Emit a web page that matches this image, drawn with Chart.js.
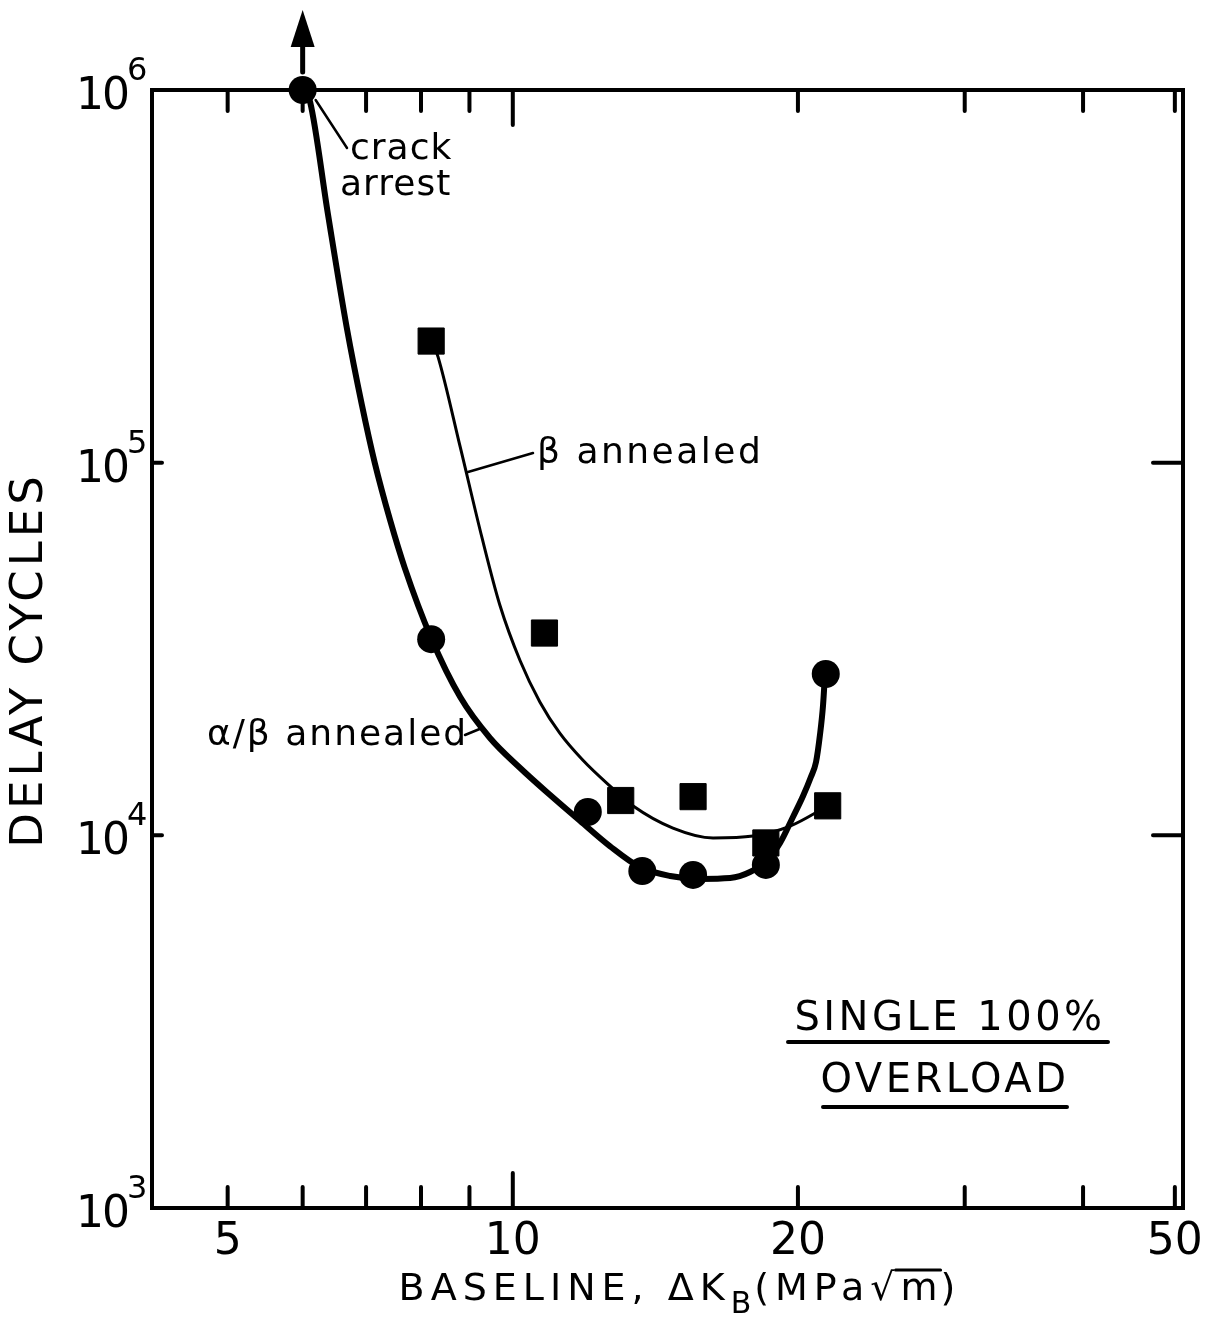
<!DOCTYPE html>
<html lang="en">
<head>
<meta charset="UTF-8">
<title>Delay cycles vs baseline ΔK</title>
<script src="https://cdn.jsdelivr.net/npm/chart.js@4"></script>
<style>
  body { margin: 0; background: #fff; }
  #chart { display: block; }
</style>
</head>
<body>
<canvas id="chart" width="1210" height="1323"></canvas>
<script>
// alpha/beta annealed (circles)
const abX = [6.0, 8.2, 12.0, 13.7, 15.5, 18.5, 21.4];
const abY = [1.0e6, 33600, 11550, 8020, 7830, 8330, 27100];

// beta annealed (squares)
const bX = [8.2, 10.8, 13.0, 15.5, 18.5, 21.5];
const bY = [212000, 34900, 12400, 12700, 9540, 12000];

// faired curves
const abCurveX = [6.02, 6.11, 6.38, 6.68, 6.93, 7.15, 7.42, 7.69, 8.20, 8.80, 9.46, 10.18, 10.95, 11.78, 12.66, 13.62, 14.66, 15.76, 16.96, 17.80, 18.51, 19.15, 19.76, 20.25, 20.64, 20.90, 21.10, 21.26, 21.36];
const abCurveY = [1.0e6, 928600, 464800, 229800, 142700, 99800, 70200, 52200, 33840, 23500, 18250, 15160, 12830, 10930, 9360, 8220, 7780, 7640, 7680, 7970, 8530, 9540, 11200, 12750, 14340, 15730, 18590, 22370, 27100];

const bCurveX = [8.22, 8.34, 8.80, 9.28, 9.69, 10.18, 10.68, 11.21, 11.86, 12.66, 13.40, 14.76, 16.27, 17.93, 19.62, 21.51];
const bCurveY = [212000, 192000, 110200, 62800, 41500, 29400, 22800, 18800, 15900, 13570, 11990, 10460, 9840, 9960, 10590, 12000];

// axis ticks
const xTicks = [5, 6, 7, 8, 9, 10, 20, 30, 40, 50];
const xMajor = [10];
const xLabels = [5, 10, 20, 50];
const yTicks = [1e3, 1e4, 1e5, 1e6];
const yExp = [3, 4, 5, 6];

const FONT = '"DejaVu Sans", sans-serif';

function toPts(xs, ys) {
  return xs.map((v, i) => ({ x: v, y: ys[i] }));
}

// frame + inward ticks, drawn under the data
const framePlugin = {
  id: 'frame',
  beforeDatasetsDraw(chart) {
    const { ctx, chartArea: a, scales: { x, y } } = chart;
    ctx.save();
    ctx.strokeStyle = '#000';
    ctx.lineWidth = 4;
    ctx.strokeRect(a.left, a.top, a.right - a.left, a.bottom - a.top);
    ctx.lineCap = 'round';
    xTicks.forEach(v => {
      const px = x.getPixelForValue(v);
      const len = xMajor.includes(v) ? 35 : 21;
      ctx.beginPath();
      ctx.moveTo(px, a.bottom);
      ctx.lineTo(px, a.bottom - len);
      ctx.moveTo(px, a.top);
      ctx.lineTo(px, a.top + len);
      ctx.stroke();
    });
    yTicks.forEach(v => {
      if (v <= y.min || v >= y.max) return;
      const py = y.getPixelForValue(v);
      ctx.beginPath();
      ctx.moveTo(a.left, py);
      ctx.lineTo(a.left + 10, py);
      ctx.moveTo(a.right, py);
      ctx.lineTo(a.right - 30, py);
      ctx.stroke();
    });
    ctx.restore();
  }
};

function drawRun(ctx, parts, cx, baseline) {
  let total = 0;
  parts.forEach(p => {
    ctx.font = p.font;
    ctx.letterSpacing = p.ls || '0px';
    p.w = ctx.measureText(p.t).width;
    total += p.w;
  });
  let xx = cx - total / 2;
  ctx.textAlign = 'left';
  ctx.textBaseline = 'alphabetic';
  parts.forEach(p => {
    ctx.font = p.font;
    ctx.letterSpacing = p.ls || '0px';
    ctx.fillText(p.t, xx, baseline + (p.dy || 0));
    p.x0 = xx;
    xx += p.w;
  });
  return parts;
}

// labels, titles and notes
const labelPlugin = {
  id: 'labels',
  afterDraw(chart) {
    const { ctx, chartArea: a, scales: { x, y } } = chart;
    ctx.save();
    ctx.fillStyle = '#000';
    ctx.strokeStyle = '#000';
    ctx.lineCap = 'round';

    // x tick labels
    ctx.font = '44px ' + FONT;
    ctx.textAlign = 'center';
    ctx.textBaseline = 'alphabetic';
    xLabels.forEach(v => {
      ctx.fillText(String(v), x.getPixelForValue(v), a.bottom + 46);
    });

    // y tick labels 10^n
    yTicks.forEach((v, i) => {
      const py = y.getPixelForValue(v);
      ctx.font = '44px ' + FONT;
      ctx.letterSpacing = '-2px';
      ctx.textAlign = 'right';
      ctx.fillText('10', 128, py + 19);
      ctx.font = '32px ' + FONT;
      ctx.letterSpacing = '0px';
      ctx.textAlign = 'left';
      ctx.fillText(String(yExp[i]), 127, py - 10);
    });

    // y title
    ctx.save();
    ctx.translate(30, 660);
    ctx.rotate(-Math.PI / 2);
    ctx.font = '45px ' + FONT;
    ctx.letterSpacing = '4px';
    ctx.textAlign = 'center';
    ctx.textBaseline = 'middle';
    ctx.fillText('DELAY CYCLES', 0, 0);
    ctx.restore();

    // x title
    const big = '38px ' + FONT;
    const parts = drawRun(ctx, [
      { t: 'BASELINE, ΔK', font: big, ls: '6px' },
      { t: 'B', font: '30px ' + FONT, dy: 13, ls: '3px' },
      { t: '(MPa√', font: big, ls: '6px' },
      { t: 'm', font: big, ls: '3px', over: true },
      { t: ')', font: big }
    ], 677, 1300);
    const m = parts.find(p => p.over);
    ctx.lineWidth = 3;
    ctx.beginPath();
    ctx.moveTo(m.x0 - 5, 1300 - 30);
    ctx.lineTo(m.x0 + m.w, 1300 - 30);
    ctx.stroke();

    // arrow above crack arrest point
    const ax = x.getPixelForValue(abX[0]);
    const ay = y.getPixelForValue(abY[0]);
    ctx.lineWidth = 5;
    ctx.beginPath();
    ctx.moveTo(ax, ay - 18);
    ctx.lineTo(ax, ay - 44);
    ctx.stroke();
    ctx.beginPath();
    ctx.moveTo(ax - 12, ay - 43);
    ctx.lineTo(ax + 12, ay - 43);
    ctx.lineTo(ax, ay - 80);
    ctx.closePath();
    ctx.fill();

    // notes
    ctx.letterSpacing = '1px';
    ctx.font = '36px ' + FONT;
    ctx.textAlign = 'left';
    ctx.fillText('crack', 350, 159);
    ctx.fillText('arrest', 340, 195);
    ctx.letterSpacing = '2.5px';
    ctx.fillText('β annealed', 537, 463);
    ctx.letterSpacing = '2px';
    ctx.fillText('α/β annealed', 207, 745);

    ctx.lineWidth = 2.5;
    ctx.beginPath();
    ctx.moveTo(ax + 13, ay + 10);
    ctx.lineTo(347, 148);
    ctx.moveTo(468, 472);
    ctx.lineTo(533, 453);
    ctx.moveTo(465, 735);
    ctx.lineTo(482, 728);
    ctx.stroke();

    ctx.font = '40px ' + FONT;
    ctx.letterSpacing = '3.5px';
    ctx.textAlign = 'center';
    ctx.fillText('SINGLE 100%', 950, 1030);
    ctx.fillText('OVERLOAD', 945, 1092);
    ctx.lineWidth = 4;
    ctx.beginPath();
    ctx.moveTo(788, 1042);
    ctx.lineTo(1108, 1042);
    ctx.moveTo(823, 1107);
    ctx.lineTo(1067, 1107);
    ctx.stroke();

    ctx.restore();
  }
};

new Chart(document.getElementById('chart'), {
  type: 'scatter',
  data: {
    datasets: [
      {
        label: 'α/β annealed',
        data: toPts(abX, abY),
        pointStyle: 'circle',
        pointRadius: 14,
        backgroundColor: '#000',
        borderColor: '#000',
        borderWidth: 0,
        clip: false,
        order: 0
      },
      {
        label: 'β annealed',
        data: toPts(bX, bY),
        pointStyle: 'rect',
        pointRadius: 18.5,
        backgroundColor: '#000',
        borderColor: '#000',
        borderWidth: 1,
        clip: false,
        order: 0
      },
      {
        label: 'α/β annealed curve',
        data: toPts(abCurveX, abCurveY),
        showLine: true,
        pointRadius: 0,
        borderColor: '#000',
        borderWidth: 6,
        borderCapStyle: 'round',
        borderJoinStyle: 'round',
        cubicInterpolationMode: 'monotone',
        clip: false,
        order: 1
      },
      {
        label: 'β annealed curve',
        data: toPts(bCurveX, bCurveY),
        showLine: true,
        pointRadius: 0,
        borderColor: '#000',
        borderWidth: 3,
        borderCapStyle: 'round',
        borderJoinStyle: 'round',
        cubicInterpolationMode: 'monotone',
        clip: false,
        order: 1
      }
    ]
  },
  options: {
    responsive: false,
    animation: false,
    devicePixelRatio: 1,
    events: [],
    layout: { padding: { left: 152, right: 27, top: 90, bottom: 115 } },
    plugins: { legend: { display: false }, tooltip: { enabled: false } },
    scales: {
      x: { type: 'logarithmic', min: 4.16, max: 51, display: false },
      y: { type: 'logarithmic', min: 1000, max: 1e6, display: false }
    }
  },
  plugins: [framePlugin, labelPlugin]
});
</script>
</body>
</html>
